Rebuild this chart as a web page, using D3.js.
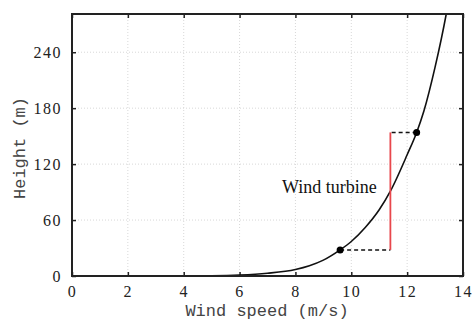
<!DOCTYPE html>
<html>
<head>
<meta charset="utf-8">
<script src="https://cdn.jsdelivr.net/npm/d3@7"></script>
<style>
  body { margin: 0; background: #fff; }
  svg { display: block; }
</style>
</head>
<body>
<div id="container"></div>
<script>
      //Data
      var speed  = [0, 2, 4, 5, 6, 7, 8, 8.5, 9, 9.6, 10, 10.5, 11, 11.4, 12, 12.34, 12.6, 13, 13.4, 13.6];
      var height = [0, 0, 0, 0.2, 1, 3, 7, 11, 17, 28, 37, 52, 71, 91, 130, 154, 177, 224, 281, 315];
      var xTicks = [0, 2, 4, 6, 8, 10, 12, 14];
      var yTicks = [0, 60, 120, 180, 240];
      var hubSpeed = [11.4];
      var rotorSpeed = [9.6, 12.34];
      var rotorHeight = [28, 154];
      var label = "Wind turbine";

      //Width and height
      var w = 473;
      var h = 320;
      var m = { left: 72, right: 10, top: 14, bottom: 44 };

      var x = d3.scaleLinear().domain([0, 14]).range([m.left, w - m.right]);
      var y = d3.scaleLinear().domain([0, 281]).range([h - m.bottom, m.top]);

      var svg = d3.select("#container")
            .append("svg")
            .attr("width", w)
            .attr("height", h);

      svg.append("clipPath").attr("id", "clip")
        .append("rect")
        .attr("x", x(0)).attr("y", y(281))
        .attr("width", x(14) - x(0)).attr("height", y(0) - y(281));

      //Grid
      svg.append("g").selectAll("line")
        .data(xTicks.slice(1, -1))
        .enter().append("line")
        .attr("x1", d => x(d)).attr("x2", d => x(d))
        .attr("y1", y(0)).attr("y2", y(281))
        .attr("stroke", "#d8d8d8").attr("stroke-dasharray", "1,2");
      svg.append("g").selectAll("line")
        .data(yTicks.slice(1))
        .enter().append("line")
        .attr("x1", x(0)).attr("x2", x(14))
        .attr("y1", d => y(d)).attr("y2", d => y(d))
        .attr("stroke", "#d8d8d8").attr("stroke-dasharray", "1,2");

      //Axes, ticks inside on all sides
      function style(g) {
        g.select(".domain").remove();
        g.selectAll(".tick line").attr("stroke", "#222").attr("stroke-width", 1.5);
        g.selectAll(".tick text")
          .attr("font-family", "Liberation Serif, serif")
          .attr("font-size", 16).attr("letter-spacing", 1.5).attr("fill", "#222");
      }
      svg.append("g").attr("transform", "translate(0," + y(0) + ")")
        .call(d3.axisBottom(x).tickValues(xTicks).tickSize(-4).tickPadding(10))
        .call(style);
      svg.append("g").attr("transform", "translate(0," + y(281) + ")")
        .call(d3.axisTop(x).tickValues(xTicks).tickSize(-4).tickFormat(""))
        .call(style);
      svg.append("g").attr("transform", "translate(" + x(0) + ",0)")
        .call(d3.axisLeft(y).tickValues(yTicks).tickSize(-4).tickPadding(10))
        .call(style);
      svg.append("g").attr("transform", "translate(" + x(14) + ",0)")
        .call(d3.axisRight(y).tickValues(yTicks).tickSize(-4).tickFormat(""))
        .call(style);

      //Curve
      var pts = speed.map((s, i) => [s, height[i]]);
      svg.append("path")
        .datum(pts)
        .attr("clip-path", "url(#clip)")
        .attr("fill", "none").attr("stroke", "#111").attr("stroke-width", 1.6)
        .attr("d", d3.line().x(d => x(d[0])).y(d => y(d[1])).curve(d3.curveMonotoneX));

      //Dashed rotor limits
      svg.append("g").selectAll("line")
        .data(rotorSpeed)
        .enter().append("line")
        .attr("x1", d => x(d)).attr("x2", x(hubSpeed[0]))
        .attr("y1", (d, i) => y(rotorHeight[i])).attr("y2", (d, i) => y(rotorHeight[i]))
        .attr("stroke", "#111").attr("stroke-width", 1.5).attr("stroke-dasharray", "4,3");

      //Red turbine line
      svg.append("line")
        .attr("x1", x(hubSpeed[0])).attr("x2", x(hubSpeed[0]))
        .attr("y1", y(rotorHeight[0])).attr("y2", y(rotorHeight[1]))
        .attr("stroke", "#e8474c").attr("stroke-width", 1.8);

      svg.append("g").selectAll("circle")
        .data(rotorSpeed)
        .enter().append("circle")
        .attr("cx", d => x(d)).attr("cy", (d, i) => y(rotorHeight[i]))
        .attr("r", 3.5).attr("fill", "#000");

      svg.append("text")
        .attr("x", 282).attr("y", 193)
        .attr("font-family", "Liberation Serif, serif").attr("font-size", 18)
        .attr("fill", "#111")
        .text(label);

      //Frame
      svg.append("rect")
        .attr("x", x(0)).attr("y", y(281))
        .attr("width", x(14) - x(0)).attr("height", y(0) - y(281))
        .attr("fill", "none").attr("stroke", "#222").attr("stroke-width", 2);

      //Axis titles
      svg.append("text")
        .attr("x", 267).attr("y", 316)
        .attr("text-anchor", "middle")
        .attr("font-family", "Liberation Mono, monospace").attr("font-size", 17)
        .attr("fill", "#444")
        .text("Wind speed (m/s)");
      svg.append("text")
        .attr("transform", "translate(25,148) rotate(-90)")
        .attr("text-anchor", "middle")
        .attr("font-family", "Liberation Mono, monospace").attr("font-size", 17)
        .attr("fill", "#444")
        .text("Height (m)");
</script>
</body>
</html>
